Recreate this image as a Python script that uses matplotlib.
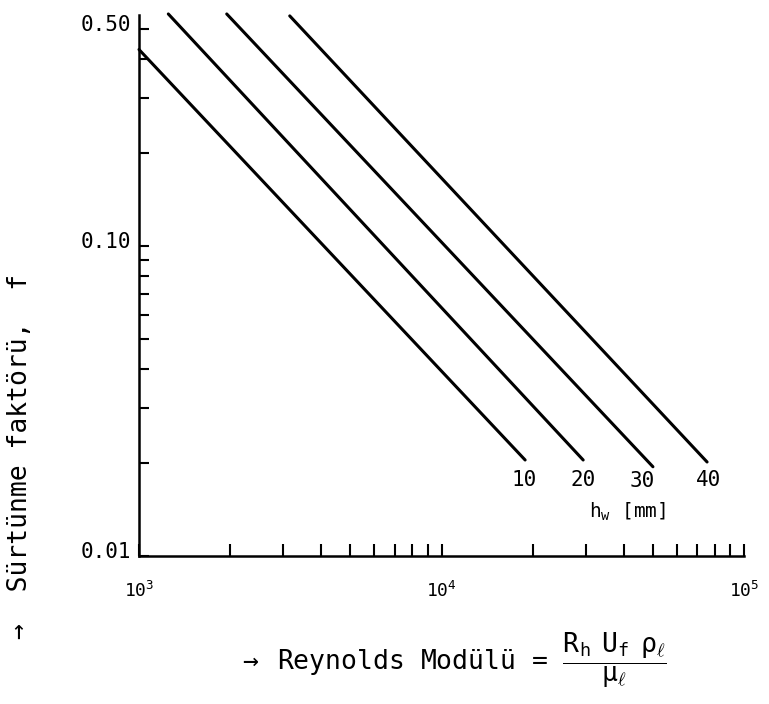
import matplotlib
matplotlib.use("Agg")
import matplotlib.pyplot as plt
import matplotlib.transforms as mtransforms
from matplotlib.ticker import FixedLocator, NullFormatter, FixedFormatter

# ---- data ----
hw_mm = [10, 20, 30, 40]
re_start = [1000, 1250, 1950, 3150]
f_start = [0.43, 0.56, 0.56, 0.552]
re_end = [18900, 29400, 50000, 75500]
f_end = [0.0204, 0.0204, 0.0194, 0.0201]

x_major = [1e3, 1e4, 1e5]
x_major_labels = [r"$10^{3}$", r"$10^{4}$", r"$10^{5}$"]
y_major = [0.01, 0.10, 0.50]
y_major_labels = ["0.01", "0.10", "0.50"]

plt.rcParams.update({
    "font.family": ["DejaVu Sans Mono", "DejaVu Sans"],
    "mathtext.fontset": "custom",
    "mathtext.rm": "DejaVu Sans Mono",
    "mathtext.it": "DejaVu Sans Mono",
    "mathtext.bf": "DejaVu Sans Mono:bold",
})

fig = plt.figure(figsize=(7.69, 7.04), dpi=100)
W, H = 769, 704
left_px, right_px = 139, 744
bot_px, top_px = 556, 10.4
ax = fig.add_axes([left_px / W, 1 - bot_px / H, (right_px - left_px) / W, (bot_px - top_px) / H])

ax.set_xscale("log")
ax.set_yscale("log")
ax.set_xlim(1e3, 1e5)
ax.set_ylim(0.01, 0.575)

for x0, y0, x1, y1 in zip(re_start, f_start, re_end, f_end):
    ax.plot([x0, x1], [y0, y1], color="black", lw=2.2, solid_capstyle="round", clip_on=False)

# line labels below the line ends
label_dx = [-1, 0, -8, 1]
label_dy = [-7, -7, -3, -6]
for hw, x1, y1, dx, dy in zip(hw_mm, re_end, f_end, label_dx, label_dy):
    ax.annotate(str(hw), xy=(x1, y1), xytext=(dx, dy), textcoords="offset points",
                ha="center", va="top", fontsize=15)

ax.text(0.807, 0.081, r"$\mathrm{h_{w}}$ [mm]", transform=ax.transAxes,
        ha="center", va="center", fontsize=14)

# spines
for s in ["top", "right"]:
    ax.spines[s].set_visible(False)
ax.spines["left"].set_linewidth(1.8)
ax.spines["bottom"].set_linewidth(1.8)
ax.spines["left"].set_bounds(0.01, 0.556)

# ticks
ax.xaxis.set_major_locator(FixedLocator(x_major))
ax.xaxis.set_major_formatter(FixedFormatter(x_major_labels))
ax.xaxis.set_minor_locator(FixedLocator([m * 10 ** e for e in (3, 4) for m in range(2, 10)]))
ax.xaxis.set_minor_formatter(NullFormatter())
ax.yaxis.set_major_locator(FixedLocator(y_major))
ax.yaxis.set_major_formatter(FixedFormatter(y_major_labels))
ax.yaxis.set_minor_locator(FixedLocator([m * 10.0 ** e for e in (-2, -1) for m in range(2, 10) if m * 10.0 ** e < 0.55 and abs(m * 10.0 ** e - 0.5) > 1e-9]))
ax.yaxis.set_minor_formatter(NullFormatter())

ax.tick_params(axis="x", which="both", direction="in", length=9, width=1.5, pad=18, labelsize=13)
ax.tick_params(axis="y", which="both", direction="in", length=7, width=1.5, pad=6, labelsize=15)

# y tick labels sit slightly above their ticks in the reference
shift = mtransforms.ScaledTranslation(0, 6 / 100, fig.dpi_scale_trans)
for lab in ax.get_yticklabels():
    lab.set_transform(lab.get_transform() + shift)

fig.text(20 / W, 1 - 456 / H, "\u2192  Sürtünme faktörü,  f", rotation=90,
         ha="center", va="center", fontsize=19)

fig.text(453 / W, 1 - 660 / H,
         r"$\rightarrow$ Reynolds Modülü = $\dfrac{\mathrm{R_{h}\ \ U_{f}\ \ \rho_{\ell}}}{\mu_{\ell}}$",
         ha="center", va="center", fontsize=19)

fig.savefig("out.png", dpi=100)
